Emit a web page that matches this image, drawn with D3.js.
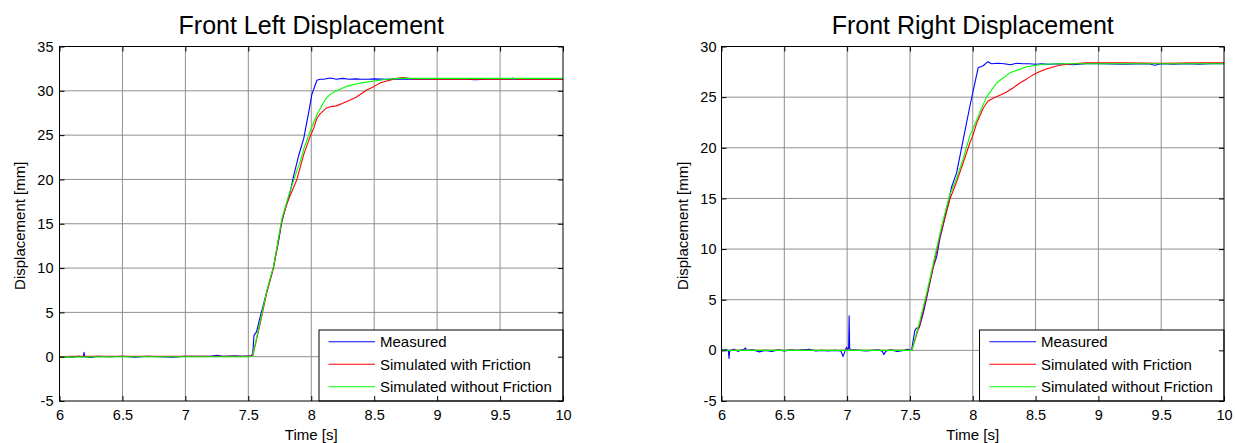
<!DOCTYPE html>
<html>
<head>
<meta charset="utf-8">
<script src="https://cdn.jsdelivr.net/npm/d3@7"></script>
<style>
  html, body { margin: 0; padding: 0; background: #fff; }
  svg { display: block; font-family: "Liberation Sans", Arial, sans-serif; }
</style>
</head>
<body>
<svg id="chart" width="1235" height="443"></svg>
<script>
// ---------------- DATA ----------------
const seriesNames = ["Measured", "Simulated with Friction", "Simulated without Friction"];
const seriesColors = ["#0000ff", "#ff0000", "#00ff00"];
const chartTitles = ["Front Left Displacement", "Front Right Displacement"];
const xLabel = "Time [s]";
const yLabel = "Displacement [mm]";
const xTicks = [6, 6.5, 7, 7.5, 8, 8.5, 9, 9.5, 10];
const yTicksLeft = [-5, 0, 5, 10, 15, 20, 25, 30, 35];
const yTicksRight = [-5, 0, 5, 10, 15, 20, 25, 30];

// Front Left: [time s, displacement mm]
const flMeasured = [
  [6.00,-0.05],[6.05,0.0],[6.10,-0.05],[6.15,0.05],[6.19,0.0],[6.195,0.5],[6.20,0.0],[6.25,-0.1],
  [6.30,0.05],[6.40,0.0],[6.50,0.05],[6.60,-0.05],[6.70,0.05],[6.80,0.0],[6.90,-0.05],[7.00,0.05],
  [7.10,0.05],[7.20,0.05],[7.25,0.15],[7.30,0.05],[7.40,0.1],[7.45,0.05],[7.52,0.1],[7.535,0.3],
  [7.545,2.4],[7.555,2.6],[7.565,2.8],[7.60,4.8],[7.648,7.4],[7.70,10.1],[7.74,13.0],[7.767,15.3],
  [7.80,17.0],[7.833,18.6],[7.86,20.4],[7.90,22.7],[7.94,24.6],[7.98,27.6],[8.005,29.6],[8.03,30.6],
  [8.045,31.2],[8.07,31.3],[8.10,31.3],[8.15,31.45],[8.20,31.3],[8.25,31.4],[8.30,31.3],[8.35,31.35],
  [8.40,31.3],[8.45,31.3],[8.50,31.35],[8.60,31.3],[8.70,31.35],[8.80,31.3],[9.00,31.3],[9.20,31.35],
  [9.30,31.25],[9.40,31.3],[9.60,31.3],[9.80,31.3],[10.0,31.3]
];
const flFriction = [
  [6.00,0.0],[6.10,0.05],[6.50,0.05],[7.00,0.05],[7.50,0.05],[7.535,0.1],[7.542,0.5],[7.595,3.8],
  [7.648,7.3],[7.70,10.0],[7.767,15.4],[7.80,17.0],[7.833,18.2],[7.886,20.0],[7.94,22.8],[7.99,24.8],
  [8.02,25.8],[8.045,26.9],[8.07,27.4],[8.12,28.05],[8.15,28.2],[8.20,28.3],[8.25,28.6],[8.30,28.9],
  [8.36,29.3],[8.44,30.1],[8.50,30.5],[8.55,30.9],[8.60,31.1],[8.68,31.4],[8.73,31.5],[8.80,31.35],
  [9.00,31.3],[9.20,31.3],[9.40,31.35],[9.58,31.3],[9.60,31.45],[9.62,31.3],[10.0,31.3]
];
const flNoFriction = [
  [6.00,-0.05],[6.50,0.0],[7.00,0.0],[7.50,0.0],[7.535,0.05],[7.542,0.6],[7.595,4.0],[7.648,7.5],
  [7.70,10.2],[7.767,15.6],[7.80,17.2],[7.83,18.6],[7.886,21.0],[7.91,21.9],[7.94,23.4],[7.99,25.4],
  [8.045,27.3],[8.11,29.0],[8.15,29.6],[8.20,30.0],[8.28,30.5],[8.40,30.9],[8.50,31.1],[8.60,31.3],
  [8.70,31.4],[9.00,31.4],[10.0,31.4]
];

// Front Right: [time s, displacement mm]
const frMeasured = [
  [6.00,0.1],[6.02,0.0],[6.04,0.1],[6.055,-0.1],[6.06,-0.8],[6.065,-0.1],[6.08,0.05],[6.10,0.1],
  [6.13,-0.1],[6.15,0.0],[6.18,0.1],[6.19,0.25],[6.20,0.0],[6.25,0.05],[6.30,-0.15],[6.35,0.0],
  [6.40,-0.1],[6.45,0.05],[6.50,-0.05],[6.55,0.05],[6.60,0.0],[6.70,0.1],[6.75,-0.05],[6.80,0.0],
  [6.85,-0.05],[6.90,0.0],[6.95,-0.05],[6.968,-0.6],[6.985,0.0],[6.995,0.3],[7.005,0.1],[7.012,0.2],
  [7.016,3.4],[7.02,0.2],[7.03,0.0],[7.05,0.05],[7.10,0.0],[7.15,-0.05],[7.20,0.0],[7.25,0.05],
  [7.28,-0.1],[7.292,-0.4],[7.31,-0.05],[7.35,0.05],[7.40,-0.1],[7.45,0.0],[7.48,0.1],[7.513,0.0],
  [7.539,1.95],[7.552,2.2],[7.573,2.2],[7.605,3.6],[7.632,5.1],[7.658,6.6],[7.685,8.2],[7.712,9.2],
  [7.738,11.0],[7.765,12.4],[7.80,14.3],[7.831,16.1],[7.871,17.5],[7.924,20.8],[7.977,24.1],
  [8.017,26.4],[8.043,27.9],[8.083,28.1],[8.12,28.5],[8.15,28.3],[8.20,28.35],[8.25,28.3],[8.30,28.2],
  [8.35,28.35],[8.40,28.3],[8.45,28.3],[8.50,28.25],[8.55,28.3],[8.60,28.25],[8.70,28.3],[8.80,28.2],
  [8.90,28.3],[9.00,28.3],[9.20,28.25],[9.40,28.3],[9.45,28.15],[9.50,28.3],[9.60,28.25],[9.70,28.3],
  [9.80,28.25],[9.90,28.3],[10.0,28.3]
];
const frFriction = [
  [6.00,0.0],[6.50,0.0],[7.00,0.0],[7.50,0.0],[7.515,0.0],[7.579,2.6],[7.632,5.3],[7.685,8.2],
  [7.738,11.2],[7.79,13.6],[7.82,15.0],[7.87,16.6],[7.926,18.6],[7.98,20.6],[8.003,21.3],[8.03,22.4],
  [8.083,23.9],[8.12,24.6],[8.162,24.9],[8.22,25.2],[8.269,25.5],[8.32,25.9],[8.375,26.4],[8.43,26.8],
  [8.48,27.2],[8.53,27.5],[8.59,27.8],[8.69,28.15],[8.80,28.3],[8.90,28.4],[9.20,28.4],[9.50,28.35],
  [9.80,28.4],[10.0,28.4]
];
const frNoFriction = [
  [6.00,0.0],[6.50,0.0],[7.00,0.0],[7.50,0.0],[7.515,0.0],[7.579,2.9],[7.632,5.6],[7.685,8.55],
  [7.738,11.5],[7.765,12.9],[7.818,15.4],[7.87,16.9],[7.926,19.0],[7.977,21.2],[8.03,22.7],[8.056,23.5],
  [8.11,25.0],[8.19,26.4],[8.295,27.4],[8.43,28.0],[8.56,28.25],[8.70,28.3],[9.00,28.3],[10.0,28.3]
];

// ---------------- DRAW ----------------
const svg = d3.select("#chart");

function drawPanel(opt) {
  const { left, right, top, bottom, yDomain, yTicks, series, title, yPad, legendX, legendLine, legendText, yLabelX } = opt;
  const g = svg.append("g");
  const x = d3.scaleLinear().domain([6, 10]).range([left, right]);
  const y = d3.scaleLinear().domain(yDomain).range([bottom, top]);

  // grid
  g.append("g").selectAll("line").data(xTicks.slice(1, -1)).join("line")
    .attr("x1", d => x(d)).attr("x2", d => x(d)).attr("y1", top).attr("y2", bottom)
    .attr("stroke", "#8f8f8f").attr("stroke-width", 1);
  g.append("g").selectAll("line").data(yTicks.slice(1, -1)).join("line")
    .attr("y1", d => y(d)).attr("y2", d => y(d)).attr("x1", left).attr("x2", right)
    .attr("stroke", "#8f8f8f").attr("stroke-width", 1);

  // lines
  const line = d3.line().x(d => x(d[0])).y(d => y(d[1]));
  series.forEach((s, i) => {
    g.append("path").datum(s).attr("d", line)
      .attr("fill", "none").attr("stroke", seriesColors[i]).attr("stroke-width", 1.1)
      .attr("stroke-linejoin", "round");
  });

  // legend
  const lg = g.append("g");
  lg.append("rect").attr("x", legendX).attr("y", 330).attr("width", right - legendX).attr("height", bottom - 330)
    .attr("fill", "#fff").attr("stroke", "#000").attr("stroke-width", 1);
  const rowsY = [341.7, 364.3, 386.7];
  seriesNames.forEach((n, i) => {
    lg.append("line").attr("x1", legendLine[0]).attr("x2", legendLine[1]).attr("y1", rowsY[i]).attr("y2", rowsY[i])
      .attr("stroke", seriesColors[i]).attr("stroke-width", 1.1);
    lg.append("text").attr("x", legendText).attr("y", rowsY[i] + 5.5).attr("font-size", 15).attr("fill", "#000").text(n);
  });

  // axes
  const fmt = d => String(d);
  const ax = g.append("g").attr("transform", `translate(0,${bottom})`)
    .call(d3.axisBottom(x).tickValues(xTicks).tickSizeInner(-5).tickSizeOuter(0).tickPadding(9).tickFormat(fmt));
  const ay = g.append("g").attr("transform", `translate(${left},0)`)
    .call(d3.axisLeft(y).tickValues(yTicks).tickSizeInner(-5).tickSizeOuter(0).tickPadding(yPad).tickFormat(fmt));
  const at = g.append("g").attr("transform", `translate(0,${top})`)
    .call(d3.axisTop(x).tickValues(xTicks).tickSizeInner(-5).tickSizeOuter(0).tickFormat(""));
  const ar = g.append("g").attr("transform", `translate(${right},0)`)
    .call(d3.axisRight(y).tickValues(yTicks).tickSizeInner(-5).tickSizeOuter(0).tickFormat(""));
  [ax, ay, at, ar].forEach(a => {
    a.select(".domain").remove();
    a.selectAll("line").attr("stroke", "#000");
    a.selectAll("text").attr("font-size", 14.5).attr("fill", "#000").attr("font-family", "Liberation Sans, Arial, sans-serif");
  });

  // frame
  g.append("rect").attr("x", left).attr("y", top).attr("width", right - left).attr("height", bottom - top)
    .attr("fill", "none").attr("stroke", "#000").attr("stroke-width", 1);

  // title & labels
  g.append("text").attr("x", (left + right) / 2).attr("y", 33.5).attr("text-anchor", "middle")
    .attr("font-size", 25).attr("fill", "#000").text(title);
  g.append("text").attr("x", (left + right) / 2).attr("y", 440).attr("text-anchor", "middle")
    .attr("font-size", 15).attr("fill", "#000").text(xLabel);
  g.append("text").attr("transform", `translate(${yLabelX},${(top + bottom) / 2 + 2}) rotate(-90)`)
    .attr("text-anchor", "middle").attr("font-size", 15).attr("fill", "#000").text(yLabel);
}

drawPanel({
  left: 59.5, right: 563, top: 46.5, bottom: 401,
  yDomain: [-5, 35], yTicks: yTicksLeft,
  series: [flMeasured, flFriction, flNoFriction],
  title: chartTitles[0], yPad: 6,
  legendX: 319, legendLine: [328.5, 375], legendText: 380, yLabelX: 25
});
drawPanel({
  left: 721.5, right: 1224, top: 46.5, bottom: 401,
  yDomain: [-5, 30], yTicks: yTicksRight,
  series: [frMeasured, frFriction, frNoFriction],
  title: chartTitles[1], yPad: 5,
  legendX: 979.5, legendLine: [989.5, 1036], legendText: 1041, yLabelX: 688
});
</script>
</body>
</html>
